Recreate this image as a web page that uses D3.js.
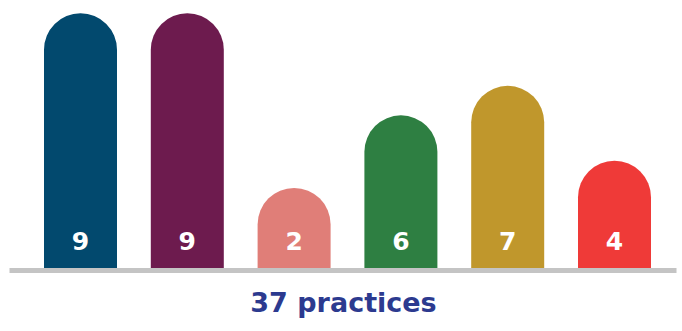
<!DOCTYPE html>
<html>
<head>
<meta charset="utf-8">
<script src="https://cdn.jsdelivr.net/npm/d3@7"></script>
<style>
  html, body { margin: 0; padding: 0; background: #ffffff; }
  svg { display: block; }
</style>
</head>
<body>
<svg id="chart" width="682" height="331"></svg>
<script>
// Practice counts per group
const groups = ["A", "B", "C", "D", "E", "F"];
const counts = [9, 9, 2, 6, 7, 4];
const colors = ["#02496e", "#6d1b4e", "#e07e78", "#2e7f42", "#c0972c", "#ef3a38"];
const totalLabel = "37 practices";

const baseY = 268;
const font = "'DejaVu Sans', sans-serif";

const svg = d3.select("#chart");

const x = d3.scaleBand()
  .domain(groups)
  .range([44, 651])
  .paddingInner(0.3165)
  .paddingOuter(0);

// Every bar keeps a minimum height so its round cap always fits
const y = d3.scalePow().exponent(2)
  .domain([0, 9])
  .range([197, 13.3]);

const bw = x.bandwidth();
const r = bw / 2;

function pill(d, i) {
  const x0 = x(groups[i]);
  const top = y(d);
  return `M${x0},${baseY} L${x0},${top + r} A${r},${r} 0 0 1 ${x0 + bw},${top + r} L${x0 + bw},${baseY} Z`;
}

svg.append("g").selectAll("path")
  .data(counts)
  .join("path")
  .attr("d", (d, i) => pill(d, i))
  .attr("fill", (d, i) => colors[i]);

svg.append("g").selectAll("text")
  .data(counts)
  .join("text")
  .attr("x", (d, i) => x(groups[i]) + bw / 2)
  .attr("y", 250)
  .attr("text-anchor", "middle")
  .attr("fill", "#ffffff")
  .attr("font-family", font)
  .attr("font-weight", 700)
  .attr("font-size", 25)
  .text(d => d);

// Baseline
svg.append("rect")
  .attr("x", 9.5)
  .attr("y", 268)
  .attr("width", 667)
  .attr("height", 5)
  .attr("fill", "#c4c4c4");

svg.append("text")
  .attr("x", 343.5)
  .attr("y", 312)
  .attr("text-anchor", "middle")
  .attr("fill", "#2c3a8f")
  .attr("font-family", font)
  .attr("font-weight", 700)
  .attr("font-size", 27)
  .text(totalLabel);
</script>
</body>
</html>
